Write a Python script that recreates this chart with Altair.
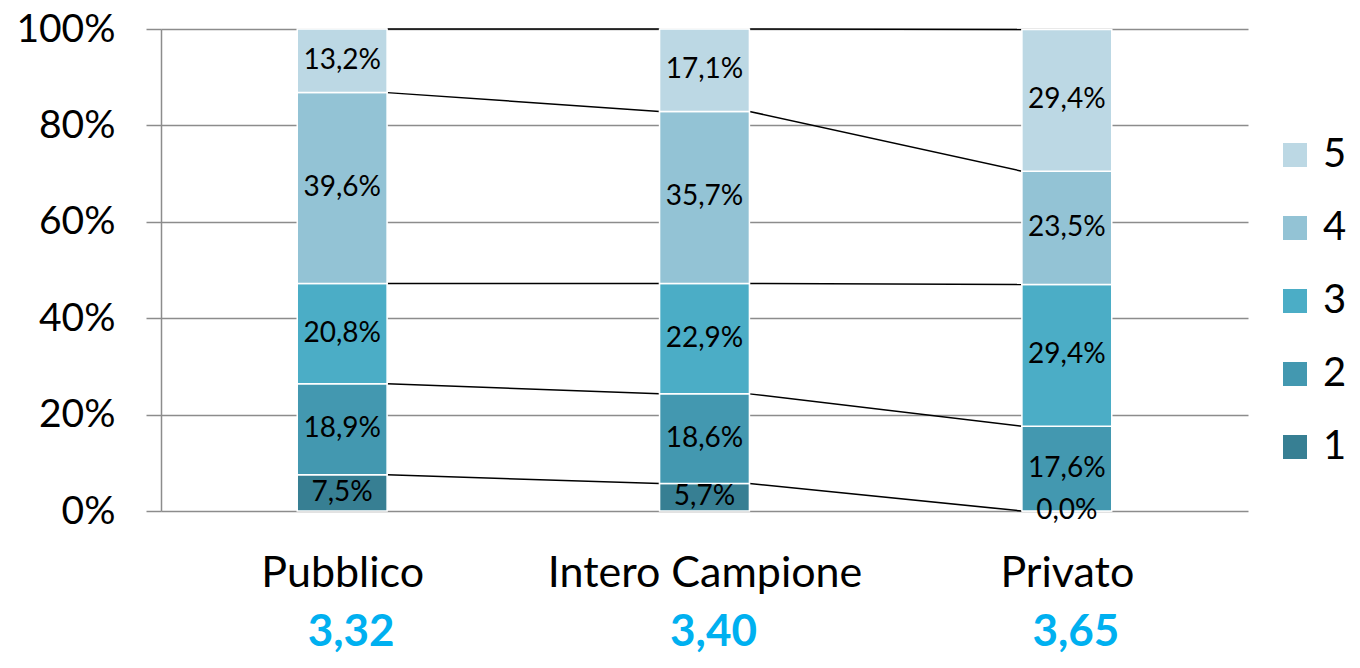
import json
import altair as alt
import pandas as pd

categories = ["Pubblico", "Intero Campione", "Privato"]
series = ["1", "2", "3", "4", "5"]
s1 = [7.5, 5.7, 0.0]
s2 = [18.9, 18.6, 17.6]
s3 = [20.8, 22.9, 29.4]
s4 = [39.6, 35.7, 23.5]
s5 = [13.2, 17.1, 29.4]
means = ["3,32", "3,40", "3,65"]
colors = ["#377F93", "#4398B0", "#4BADC6", "#93C3D5", "#BCD8E4"]

FONT = "Lato"
HW = 0.124  # half bar width in category units

values = [s1, s2, s3, s4, s5]
rows = []
tops = {}
for ci, cat in enumerate(categories):
    cum = 0.0
    for si, s in enumerate(series):
        v = values[si][ci]
        y0 = cum / 100
        cum += v
        y1 = cum / 100
        tops[(s, ci)] = y1
        rows.append({
            "cat": cat, "series": s, "xc": ci + 0.5,
            "xl": ci + 0.5 - HW, "xr": ci + 0.5 + HW,
            "y0": y0, "y1": y1, "ym": (y0 + y1) / 2,
            "label": f"{v:.1f}".replace(".", ",") + "%",
        })
df = pd.DataFrame(rows)

lines = []
for s in series:
    for ci in range(len(categories) - 1):
        lines.append({
            "series": s, "x": ci + 0.5 + HW, "x2": ci + 1.5 - HW,
            "y": tops[(s, ci)], "y2": tops[(s, ci + 1)],
        })
ldf = pd.DataFrame(lines)

mdf = pd.DataFrame({"xc": [i + 0.5 for i in range(len(categories))], "txt": means})

xscale = alt.Scale(domain=[0, 3])
yscale = alt.Scale(domain=[0, 1])
label_expr = json.dumps(categories) + "[floor(datum.value)]"

xaxis = alt.Axis(values=[0.5, 1.5, 2.5], labelExpr=label_expr, grid=False, ticks=False,
                 domain=False, labelFontSize=43, labelFont=FONT, labelColor="black",
                 labelPadding=41, title=None, labelOverlap=False, labelFlush=False,
                 labelLimit=0)
yaxis = alt.Axis(values=[0, 0.2, 0.4, 0.6, 0.8, 1.0], format=".0%", grid=True,
                 gridColor="#8c8c8c", gridWidth=1.5, domainColor="#8c8c8c", domainWidth=1.5,
                 tickColor="#8c8c8c", tickWidth=1.5, tickSize=15, labelPadding=31,
                 labelFontSize=39, labelFont=FONT, labelColor="black", title=None)

color_scale = alt.Scale(domain=list(reversed(series)), range=list(reversed(colors)))

bars = alt.Chart(df).mark_rect(stroke="white", strokeWidth=1.5).encode(
    x=alt.X("xl:Q", scale=xscale, axis=xaxis),
    x2="xr:Q",
    y=alt.Y("y0:Q", scale=yscale, axis=yaxis),
    y2="y1:Q",
    color=alt.Color("series:N", scale=color_scale, legend=alt.Legend(
        title=None, orient="none", legendX=1114, legendY=106, padding=0,
        symbolType="square", symbolSize=576, symbolStrokeWidth=0, labelFontSize=40,
        labelFont=FONT, labelColor="black", rowPadding=33, labelOffset=8)),
)

labels = alt.Chart(df).mark_text(font=FONT, fontSize=28, color="black", baseline="middle").encode(
    x=alt.X("xc:Q", scale=xscale),
    y=alt.Y("ym:Q", scale=yscale),
    text="label:N",
)

rules = alt.Chart(ldf).mark_rule(color="black", strokeWidth=1.5).encode(
    x=alt.X("x:Q", scale=xscale), x2="x2:Q",
    y=alt.Y("y:Q", scale=yscale), y2="y2:Q",
)

mean_text = alt.Chart(mdf).mark_text(font=FONT, fontSize=44, fontWeight="bold",
                                     color="#00B0F0", baseline="middle", dx=9).encode(
    x=alt.X("xc:Q", scale=xscale),
    y=alt.value(604),
    text="txt:N",
)

chart = alt.layer(rules, bars, labels, mean_text).properties(
    width=1087, height=482,
    autosize=alt.AutoSizeParams(type="none"),
    padding={"left": 153, "top": 21, "right": 104, "bottom": 149},
).configure_view(stroke=None)

chart.save("out.html", embed_options={"renderer": "svg", "actions": False})
